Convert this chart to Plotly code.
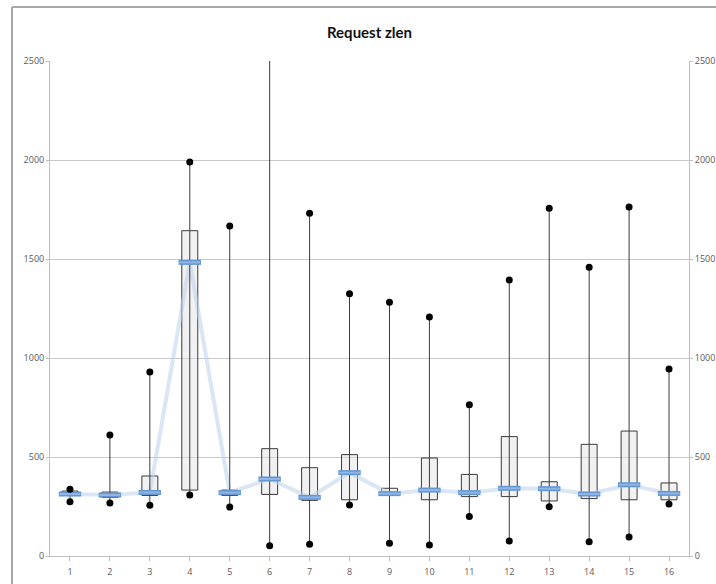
import plotly.graph_objects as go

categories = list(range(1, 17))
mins    = [274, 268, 256, 308, 247,  52,  59, 258,  64,  56, 200,  76, 249,  72,  96, 263]
q1      = [308, 296, 306, 333, 306, 311, 281, 284, 306, 284, 300, 300, 278, 290, 284, 284]
medians = [313, 308, 321, 1483, 320, 389, 296, 421, 315, 333, 320, 342, 340, 313, 360, 316]
q3      = [328, 323, 404, 1643, 333, 542, 446, 512, 342, 495, 412, 603, 375, 564, 631, 369]
maxs    = [337, 611, 929, 1990, 1667, 2700, 1731, 1325, 1281, 1207, 764, 1394, 1756, 1458, 1762, 944]
y_ticks = [0, 500, 1000, 1500, 2000, 2500]

fig = go.Figure()

# boxes (Q1..Q3)
fig.add_trace(go.Bar(
    x=categories, y=[b - a for a, b in zip(q1, q3)], base=q1, width=0.4,
    marker=dict(color="rgba(225,225,225,0.45)", line=dict(color="#3a3a3a", width=1)),
    hoverinfo="skip", showlegend=False))

# median connecting line
fig.add_trace(go.Scatter(
    x=categories, y=medians, mode="lines",
    line=dict(color="rgba(190,210,236,0.55)", width=4),
    hoverinfo="skip", showlegend=False))

# whiskers
wx, wy = [], []
for c, lo, hi in zip(categories, mins, maxs):
    wx += [c, c, None]
    wy += [lo, hi, None]
fig.add_trace(go.Scatter(
    x=wx, y=wy, mode="lines", line=dict(color="#3c3c3c", width=1),
    hoverinfo="skip", showlegend=False, cliponaxis=True))

# median bars
fig.add_trace(go.Scatter(
    x=categories, y=medians, mode="markers",
    marker=dict(symbol="line-ew", size=16, line=dict(color="#6396d3", width=5)),
    hoverinfo="skip", showlegend=False))
fig.add_trace(go.Scatter(
    x=categories, y=medians, mode="markers",
    marker=dict(symbol="line-ew", size=15, line=dict(color="#8fb6e4", width=2)),
    hoverinfo="skip", showlegend=False))

# min/max dots
fig.add_trace(go.Scatter(
    x=categories + categories, y=mins + maxs, mode="markers",
    marker=dict(color="black", size=7),
    hoverinfo="skip", showlegend=False, cliponaxis=True))

# invisible trace for right axis
fig.add_trace(go.Scatter(x=[categories[0]], y=[y_ticks[0]], yaxis="y2",
                         mode="markers", marker=dict(opacity=0),
                         hoverinfo="skip", showlegend=False))

tickfont = dict(family="Open Sans, Liberation Sans, sans-serif", size=9, color="#595959")

fig.update_layout(
    width=716, height=584,
    margin=dict(l=50, r=27, t=61, b=28, autoexpand=False),
    paper_bgcolor="white", plot_bgcolor="white",
    barmode="overlay",
    title=dict(text="<b>Request zlen</b>", x=0.5, xref="paper", xanchor="center",
               y=1 - 33 / 584, yref="container", yanchor="middle",
               font=dict(family="Lato, Open Sans, sans-serif", size=15, color="#111111")),
    xaxis=dict(range=[0.5, 16.5], tickvals=categories, ticktext=[str(c) for c in categories],
               tickson="boundaries", ticks="outside", ticklen=4, tickcolor="#bfbfbf",
               showline=True, linecolor="#bfbfbf", linewidth=1, showgrid=False,
               zeroline=False, tickfont=dict(tickfont), automargin=False,
               ticklabelstandoff=3),
    yaxis=dict(range=[0, 2500], tickvals=y_ticks, ticks="outside", ticklen=3,
               tickcolor="#bfbfbf", showline=True, linecolor="#bfbfbf", linewidth=1,
               showgrid=True, gridcolor="#c8c8c8", gridwidth=1, zeroline=False,
               tickfont=dict(tickfont), automargin=False),
    yaxis2=dict(range=[0, 2500], tickvals=y_ticks, overlaying="y", side="right",
                ticks="outside", ticklen=3, tickcolor="#bfbfbf", showline=True,
                linecolor="#bfbfbf", linewidth=1, showgrid=False, zeroline=False,
                tickfont=dict(tickfont), automargin=False),
)

# chart border (left and top edges visible in the crop)
left_x = (12 - 50) / 639
top_y = (584 - 28 - 7) / 495
fig.add_shape(type="line", xref="paper", yref="paper", x0=left_x, x1=left_x,
              y0=top_y, y1=-1, line=dict(color="#a6a6a6", width=2))
fig.add_shape(type="line", xref="paper", yref="paper", x0=left_x, x1=2,
              y0=top_y, y1=top_y, line=dict(color="#a6a6a6", width=2))

fig.write_html("out.html",
               config={"displayModeBar": False, "staticPlot": True},
               post_script="document.body.style.margin='0';document.body.style.overflow='hidden';")
